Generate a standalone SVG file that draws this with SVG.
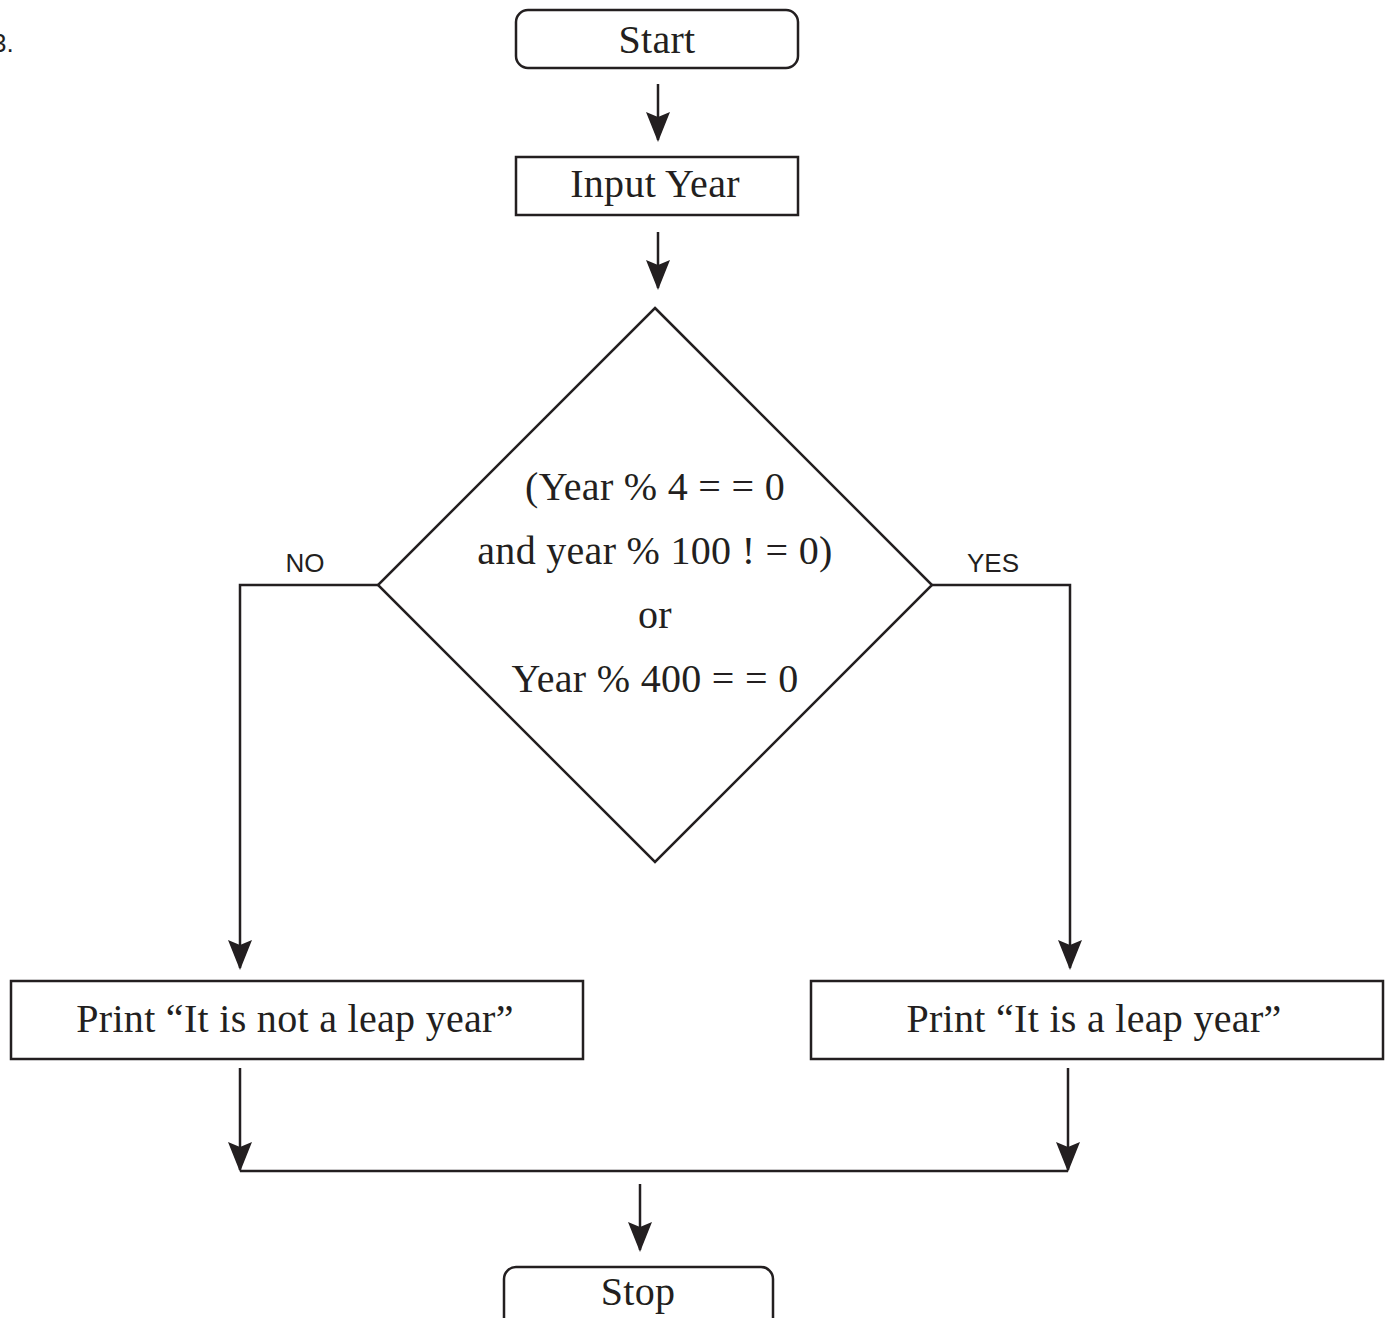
<svg xmlns="http://www.w3.org/2000/svg" width="1388" height="1318" viewBox="0 0 1388 1318">
<style>
.box{fill:#fff;stroke:#231f20;stroke-width:2.5}
.ln{fill:none;stroke:#231f20;stroke-width:2.5}
.ah{fill:#231f20}
.t{font-family:"Liberation Serif","DejaVu Serif",serif;font-size:40px;letter-spacing:0.3px;fill:#231f20;text-anchor:middle}
.lb{font-family:"Liberation Sans","DejaVu Sans",sans-serif;font-size:26px;fill:#231f20;text-anchor:middle}
</style>
<rect width="1388" height="1318" fill="#fff"/>
<text x="-8" y="52" class="lb" style="text-anchor:start">3.</text>
<g id="connectors">
<path class="ln" d="M658,84 V140"/>
<path class="ah" d="M646,112 L658,117 L670,112 L658,142 Z"/>
<path class="ln" d="M658,232 V288"/>
<path class="ah" d="M646,260 L658,265 L670,260 L658,290 Z"/>
<path class="ln" d="M378,585 H240 V968"/>
<path class="ah" d="M228,940 L240,945 L252,940 L240,970 Z"/>
<path class="ln" d="M932,585 H1070 V968"/>
<path class="ah" d="M1058,940 L1070,945 L1082,940 L1070,970 Z"/>
<path class="ln" d="M240,1068 V1170"/>
<path class="ah" d="M228,1142 L240,1147 L252,1142 L240,1172 Z"/>
<path class="ln" d="M1068,1068 V1170"/>
<path class="ah" d="M1056,1142 L1068,1147 L1080,1142 L1068,1172 Z"/>
<path class="ln" d="M240,1171 H1068"/>
<path class="ln" d="M640,1184 V1250"/>
<path class="ah" d="M628,1222 L640,1227 L652,1222 L640,1252 Z"/>
</g>
<g id="start">
<rect class="box" x="516" y="10" width="282" height="58" rx="12"/>
<text class="t" x="657" y="53">Start</text>
</g>
<g id="input">
<rect class="box" x="516" y="157" width="282" height="58"/>
<text class="t" x="655" y="197">Input Year</text>
</g>
<g id="decision">
<polygon class="box" points="655,308 932,585 655,862 378,585"/>
<text class="t" x="655" y="500">(Year % 4 = = 0</text>
<text class="t" x="655" y="564">and year % 100 ! = 0)</text>
<text class="t" x="655" y="628">or</text>
<text class="t" x="655" y="692">Year % 400 = = 0</text>
</g>
<g id="labels">
<text class="lb" x="305" y="572">NO</text>
<text class="lb" x="993" y="572">YES</text>
</g>
<g id="notleap">
<rect class="box" x="11" y="981" width="572" height="78"/>
<text class="t" x="295" y="1032">Print “It is not a leap year”</text>
</g>
<g id="leap">
<rect class="box" x="811" y="981" width="572" height="78"/>
<text class="t" x="1094" y="1032">Print “It is a leap year”</text>
</g>
<g id="stop">
<rect class="box" x="504" y="1267" width="269" height="70" rx="12"/>
<text class="t" x="638" y="1305">Stop</text>
</g>
</svg>
